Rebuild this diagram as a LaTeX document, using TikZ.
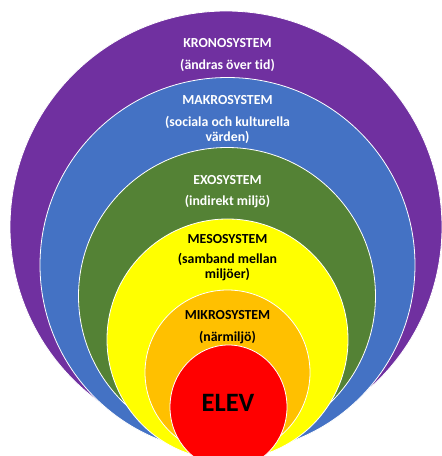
\documentclass[tikz,border=0pt]{standalone}
\usepackage{fontspec}
\setmainfont{Carlito}[RawFeature=-liga]
\usetikzlibrary{positioning}
\definecolor{krono}{HTML}{7030A0}
\definecolor{makro}{HTML}{4472C4}
\definecolor{exo}{HTML}{548235}
\definecolor{meso}{HTML}{FFFF00}
\definecolor{mikro}{HTML}{FFC000}
\definecolor{elev}{HTML}{FF0000}

\begin{document}
\begin{tikzpicture}[
                          x=1pt, y=1pt,
                          node distance=22pt,
                          on grid,
                          ring/.style={draw=white, line width=0.8pt},
                          etikett/.style={font=\bfseries\fontsize{13.8}{15}\selectfont, align=center}]
                      \useasboundingbox (0,0) rectangle (442,456);
                      \clip (0,0) rectangle (442,456);
                      \draw[ring, fill=krono] (226,229) circle (216pt);
                      \draw[ring, fill=makro] (227.5,191) circle (187.5pt);
                      \draw[ring, fill=exo] (227,160) circle (148.5pt);
                      \draw[ring, fill=meso] (227.5,116.5) circle (120.5pt);
                      \draw[ring, fill=mikro] (227.5,83.5) circle (82.5pt);
                      \draw[ring, fill=elev] (228.5,49) ellipse (58.5pt and 62pt);
                      \node[etikett, text=white] (krono_namn) at (227.5,413) {KRONOSYSTEM};
                      \node[etikett, text=white] (krono_text) [below=of krono_namn] {(ändras över tid)};
                      \node[etikett, text=white] (makro_namn) at (227.5,356) {MAKROSYSTEM};
                      \node[etikett, text=white] (makro_text) [below=29.5pt of makro_namn] {(sociala och kulturella\\värden)};
                      \node[etikett, text=white] (exo_namn) at (227.5,276) {EXOSYSTEM};
                      \node[etikett, text=white] (exo_text) [below=of exo_namn] {(indirekt miljö)};
                      \node[etikett] (meso_namn) at (227.5,217) {MESOSYSTEM};
                      \node[etikett] (meso_text) [below=28.5pt of meso_namn] {(samband mellan\\miljöer)};
                      \node[etikett] (mikro_namn) at (227.5,141) {MIKROSYSTEM};
                      \node[etikett] (mikro_text) [below=23pt of mikro_namn] {(närmiljö)};
                      \node[font=\bfseries\fontsize{26.5}{30}\selectfont] (elev_namn) at (228,53.5) {ELEV};
                  \end{tikzpicture}
\end{document}
